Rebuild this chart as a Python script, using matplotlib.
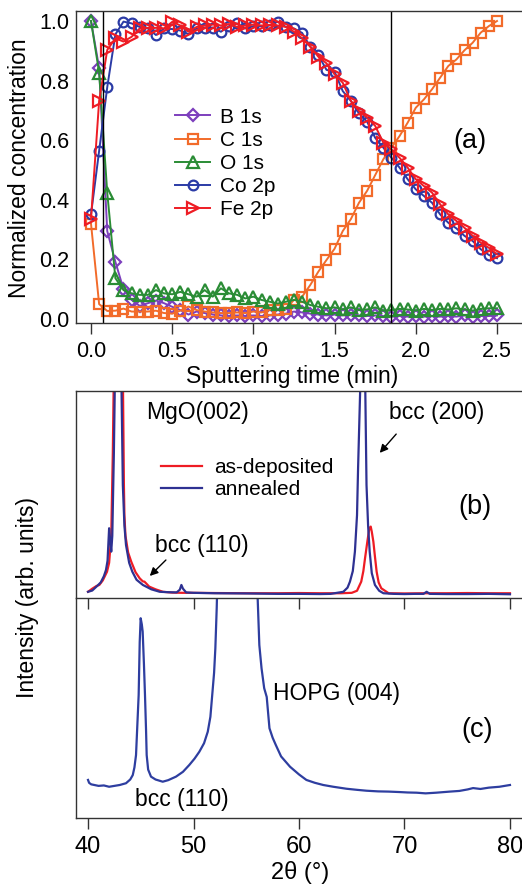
import matplotlib
matplotlib.use('Agg')
import matplotlib.pyplot as plt

plt.rcParams['font.family'] = ['Liberation Sans', 'DejaVu Sans']

# ---------------- data: panel (a) ----------------
time_min = [0.00, 0.05, 0.10, 0.15, 0.20, 0.25, 0.30, 0.35, 0.40, 0.45,
            0.50, 0.55, 0.60, 0.65, 0.70, 0.75, 0.80, 0.85, 0.90, 0.95,
            1.00, 1.05, 1.10, 1.15, 1.20, 1.25, 1.30, 1.35, 1.40, 1.45,
            1.50, 1.55, 1.60, 1.65, 1.70, 1.75, 1.80, 1.85, 1.90, 1.95,
            2.00, 2.05, 2.10, 2.15, 2.20, 2.25, 2.30, 2.35, 2.40, 2.45, 2.50]

b_1s = [1.000, 0.843, 0.295, 0.192, 0.100, 0.064, 0.044, 0.053, 0.062, 0.053,
        0.041, 0.030, 0.015, 0.025, 0.020, 0.015, 0.012, 0.010, 0.012, 0.010,
        0.012, 0.010, 0.012, 0.015, 0.018, 0.025, 0.022, 0.018, 0.015, 0.012,
        0.015, 0.012, 0.015, 0.012, 0.010, 0.012, 0.010, 0.008, 0.010, 0.008,
        0.010, 0.008, 0.010, 0.008, 0.010, 0.008, 0.012, 0.008, 0.010, 0.010, 0.012]

c_1s = [0.320, 0.050, 0.027, 0.028, 0.035, 0.025, 0.025, 0.025, 0.028, 0.020,
        0.018, 0.028, 0.042, 0.030, 0.025, 0.022, 0.020, 0.020, 0.022, 0.020,
        0.025, 0.022, 0.030, 0.030, 0.035, 0.064, 0.075, 0.114, 0.159, 0.198,
        0.236, 0.295, 0.335, 0.390, 0.430, 0.483, 0.536, 0.575, 0.614, 0.659,
        0.709, 0.737, 0.771, 0.810, 0.849, 0.871, 0.902, 0.927, 0.961, 0.983, 1.000]

o_1s = [1.000, 0.827, 0.424, 0.137, 0.097, 0.086, 0.081, 0.081, 0.097, 0.086,
        0.083, 0.091, 0.083, 0.075, 0.097, 0.075, 0.103, 0.086, 0.081, 0.069,
        0.075, 0.064, 0.058, 0.052, 0.058, 0.064, 0.058, 0.047, 0.041, 0.036,
        0.039, 0.032, 0.039, 0.030, 0.032, 0.039, 0.028, 0.030, 0.034, 0.032,
        0.028, 0.034, 0.030, 0.034, 0.032, 0.036, 0.032, 0.028, 0.034, 0.036, 0.036]

co_2p = [0.351, 0.564, 0.778, 0.955, 0.998, 0.992, 0.980, 0.975, 0.953, 0.975,
         0.973, 0.968, 0.956, 0.975, 0.978, 0.978, 0.964, 0.983, 0.992, 0.975,
         0.983, 0.983, 0.985, 0.998, 0.980, 0.975, 0.960, 0.914, 0.886, 0.836,
         0.830, 0.765, 0.732, 0.690, 0.662, 0.608, 0.575, 0.541, 0.508, 0.469,
         0.435, 0.413, 0.390, 0.351, 0.323, 0.304, 0.279, 0.262, 0.234, 0.215, 0.204]

fe_2p = [0.335, 0.732, 0.903, 0.942, 0.931, 0.947, 0.975, 0.977, 0.977, 0.975,
         0.997, 0.985, 0.964, 0.980, 0.985, 0.988, 0.985, 0.990, 0.980, 0.985,
         0.988, 0.985, 0.987, 0.985, 0.980, 0.964, 0.942, 0.914, 0.880, 0.858,
         0.821, 0.793, 0.732, 0.698, 0.676, 0.648, 0.592, 0.569, 0.541, 0.508,
         0.469, 0.446, 0.424, 0.385, 0.351, 0.329, 0.306, 0.279, 0.256, 0.239, 0.217]

boundary_times = [0.072, 1.845]

# ---------------- data: panel (b) ----------------
annealed_2theta = [40.0, 40.4, 40.8, 41.2, 41.5, 41.7, 41.85, 42.0, 42.1, 42.2,
                   42.3, 42.45, 42.56, 42.85, 43.15, 43.3, 43.45, 43.6, 43.9, 44.2,
                   44.6, 45.2, 46.0, 46.8, 47.6, 48.4, 48.7, 48.85, 49.0, 49.3,
                   50.0, 52.0, 55.0, 58.0, 60.0, 62.0, 63.0, 64.2, 64.6, 64.83,
                   65.1, 65.3, 65.5, 65.6, 65.85, 66.05, 66.26, 66.4, 66.55, 66.7,
                   66.9, 67.2, 67.6, 68.0, 69.0, 70.0, 71.0, 71.8, 72.1, 72.4,
                   74.0, 76.0, 78.0, 80.0]
annealed_int = [3.0, 3.6, 5.5, 7.5, 10.5, 13.5, 18.0, 33.7, 28.0, 22.4,
                30.0, 70.0, 110.0, 600.0, 110.0, 54.6, 35.0, 25.6, 17.0, 12.7,
                8.8, 6.3, 4.2, 3.0, 2.8, 2.7, 4.0, 6.3, 4.5, 2.7,
                2.5, 2.3, 2.2, 2.0, 2.0, 1.9, 2.0, 3.0, 5.0, 7.9,
                13.0, 22.4, 40.0, 62.6, 110.0, 600.0, 110.0, 54.6, 35.0, 22.4,
                12.0, 6.3, 3.5, 2.3, 2.0, 1.9, 2.0, 2.0, 3.0, 2.0,
                1.9, 1.9, 2.0, 1.8]

asdep_2theta = [40.0, 40.4, 40.8, 41.07, 41.4, 41.8, 42.0, 42.2, 42.35, 42.45,
                42.9, 43.3, 43.4, 43.45, 43.55, 43.8, 44.1, 44.5, 44.9, 45.2,
                45.35, 45.8, 46.4, 47.1, 48.0, 49.0, 50.0, 52.0, 55.0, 58.0,
                60.0, 62.0, 64.0, 65.0, 65.5, 65.9, 66.1, 66.26, 66.5, 66.67,
                66.8, 66.9, 67.05, 67.2, 67.36, 67.55, 67.8, 68.5, 70.0, 72.0,
                74.0, 76.0, 78.0, 80.0]
asdep_int = [3.0, 4.5, 5.8, 6.3, 8.5, 12.7, 17.0, 30.0, 70.0, 110.0,
             600.0, 110.0, 55.0, 40.0, 30.0, 22.0, 17.5, 12.5, 9.5, 8.0,
             7.9, 5.5, 4.2, 3.0, 2.6, 2.5, 2.5, 2.4, 2.3, 2.3,
             2.4, 2.3, 2.3, 2.5, 3.5, 7.9, 13.0, 19.2, 28.0, 33.7,
             34.5, 32.0, 27.2, 20.0, 12.7, 7.5, 4.7, 2.3, 2.2, 2.3,
             2.3, 2.4, 2.3, 2.3]

# ---------------- data: panel (c) ----------------
hopg_2theta = [40.0, 40.1, 40.3, 40.6, 41.0, 41.5, 42.0, 42.5, 43.0, 43.6,
               44.0, 44.24, 44.4, 44.55, 44.7, 44.8, 44.9, 44.99, 45.1, 45.18,
               45.3, 45.4, 45.5, 45.56, 45.7, 45.97, 46.4, 47.08, 47.6, 48.34,
               49.0, 49.6, 50.1, 50.55, 51.0, 51.35, 51.6, 51.8, 51.95, 52.07,
               52.2, 52.3, 54.4, 56.0, 56.08, 56.24, 56.45, 56.7, 56.94, 57.2,
               57.5, 57.8, 58.3, 59.15, 60.0, 60.7, 61.5, 62.3, 63.25, 64.5,
               65.5, 66.4, 67.5, 68.5, 69.5, 70.3, 71.15, 72.0, 73.0, 74.3,
               75.2, 76.0, 76.5, 77.2, 78.0, 79.0, 80.0]
hopg_int = [17.3, 16.0, 15.3, 15.0, 14.6, 14.8, 14.2, 14.6, 15.0, 15.8,
            17.5, 19.5, 23.0, 28.6, 45.0, 55.9, 80.0, 90.8, 88.0, 84.7,
            70.0, 55.9, 40.0, 28.6, 22.0, 18.8, 17.5, 16.5, 17.2, 18.8,
            21.0, 24.1, 27.0, 30.1, 34.0, 39.2, 46.0, 57.4, 66.0, 77.1,
            95.5, 115.0, 600.0, 115.0, 100.0, 78.6, 68.0, 59.0, 55.0, 40.8,
            36.5, 33.2, 28.0, 23.3, 19.8, 17.3, 16.0, 15.0, 14.2, 13.3,
            12.8, 12.4, 12.1, 12.0, 11.8, 11.6, 11.5, 11.2, 11.5, 12.0,
            12.3, 13.0, 13.6, 13.2, 13.8, 14.2, 15.0]

xticks_a = [0.0, 0.5, 1.0, 1.5, 2.0, 2.5]
yticks_a = [0.0, 0.2, 0.4, 0.6, 0.8, 1.0]
xticks_bc = [40, 50, 60, 70, 80]

# ---------------- figure ----------------
W, H = 522, 885
fig = plt.figure(figsize=(W / 100, H / 100), dpi=100)


def rect(l, t, r, b):
    return [l / W, 1 - b / H, (r - l) / W, (b - t) / H]


axa = fig.add_axes(rect(76, 11, 522, 323))
axb = fig.add_axes(rect(76, 391, 522, 598))
axc = fig.add_axes(rect(76, 598, 522, 818))

spine_col = '#333333'
TICK_FS = 15.5

# ---- panel (a)
series = [
    ('B 1s', b_1s, '#7d3fbd', 'D', 6.5),
    ('C 1s', c_1s, '#f26b2a', 's', 6.5),
    ('O 1s', o_1s, '#2a8c35', '^', 8.0),
    ('Co 2p', co_2p, '#2b3ba6', 'o', 7.0),
    ('Fe 2p', fe_2p, '#ee1c24', '>', 8.0),
]
for name, vals, col, mk, ms in series:
    axa.plot(time_min, vals, color=col, lw=1.4, marker=mk, ms=ms,
             mfc='none', mec=col, mew=1.6, label=name)
for bt in boundary_times:
    axa.axvline(bt, color='black', lw=1.0)

axa.set_xlim(-0.0924, 2.654)
axa.set_ylim(-0.0134, 1.0336)
axa.set_xticks(xticks_a)
axa.set_xticklabels([f'{v:.1f}' for v in xticks_a])
axa.set_yticks(yticks_a)
axa.set_yticklabels([f'{v:.1f}' for v in yticks_a])
axa.tick_params(axis='x', direction='out', length=8, width=1, pad=5,
                labelsize=TICK_FS, color=spine_col)
axa.tick_params(axis='y', length=0, pad=5, labelsize=TICK_FS)
axa.spines['right'].set_visible(False)
for s in ['left', 'top', 'bottom']:
    axa.spines[s].set_color(spine_col)
    axa.spines[s].set_linewidth(1.0)
axa.legend(loc='upper left', bbox_to_anchor=(0.222, 0.69), frameon=False,
           fontsize=15, handlelength=1.7, handletextpad=0.45,
           labelspacing=0.2, borderpad=0, borderaxespad=0)
axa.text(0.883, 0.583, '(a)', transform=axa.transAxes, fontsize=19.5,
         ha='center', va='center')

# ---- panel (b)
axb.plot(asdep_2theta, asdep_int, color='#ee1c24', lw=1.6, label='as-deposited')
axb.plot(annealed_2theta, annealed_int, color='#2e3192', lw=1.6, label='annealed')
axb.set_xlim(38.86, 81.14)
axb.set_ylim(0, 100)
axb.set_xticks([])
axb.set_yticks([])
axb.spines['right'].set_visible(False)
axb.spines['bottom'].set_visible(False)
for s in ['left', 'top']:
    axb.spines[s].set_color(spine_col)
    axb.spines[s].set_linewidth(1.0)
axb.legend(loc='upper left', bbox_to_anchor=(0.19, 0.675), frameon=False,
           fontsize=15, handlelength=2.0, handletextpad=0.55,
           labelspacing=0.15, borderpad=0, borderaxespad=0)
axb.text(0.2735, 0.894, 'MgO(002)', transform=axb.transAxes, fontsize=16.5,
         ha='center', va='center')
axb.text(0.809, 0.894, 'bcc (200)', transform=axb.transAxes, fontsize=16.5,
         ha='center', va='center')
axb.text(0.2825, 0.256, 'bcc (110)', transform=axb.transAxes, fontsize=16.5,
         ha='center', va='center')
axb.text(0.895, 0.44, '(b)', transform=axb.transAxes, fontsize=19.5,
         ha='center', va='center')
arrow_kw = dict(arrowstyle='-|>', color='black', lw=1.0, mutation_scale=12)
axb.annotate('', xy=(0.677, 0.691), xytext=(0.722, 0.802),
             xycoords='axes fraction', textcoords='axes fraction',
             arrowprops=arrow_kw)
axb.annotate('', xy=(0.161, 0.097), xytext=(0.206, 0.193),
             xycoords='axes fraction', textcoords='axes fraction',
             arrowprops=arrow_kw)

# ---- panel (c)
axc.plot(hopg_2theta, hopg_int, color='#2e3ea0', lw=1.6)
axc.set_xlim(38.86, 81.14)
axc.set_ylim(0, 100)
axc.set_xticks(xticks_bc)
axc.set_yticks([])
axc.tick_params(axis='x', which='both', top=True, direction='out', length=8,
                width=1, pad=5, labelsize=TICK_FS + 1.5, color=spine_col)
axc.spines['right'].set_visible(False)
for s in ['left', 'top', 'bottom']:
    axc.spines[s].set_color(spine_col)
    axc.spines[s].set_linewidth(1.0)
# top ticks pointing into panel (c)
for tk in axc.xaxis.get_major_ticks():
    tk.tick2line.set_marker(matplotlib.lines.TICKDOWN)
    tk.tick2line.set_markersize(8)
axc.text(0.583, 0.568, 'HOPG (004)', transform=axc.transAxes, fontsize=16.5,
         ha='center', va='center')
axc.text(0.899, 0.40, '(c)', transform=axc.transAxes, fontsize=19.5,
         ha='center', va='center')
axc.text(0.238, 0.086, 'bcc (110)', transform=axc.transAxes, fontsize=16.5,
         ha='center', va='center')

# ---- axis labels
fig.text(20 / W, 1 - 168 / H, 'Normalized concentration', rotation=90,
         fontsize=16.5, ha='center', va='center')
fig.text(292 / W, 1 - 377 / H, 'Sputtering time (min)', fontsize=16.5,
         ha='center', va='center')
fig.text(28 / W, 1 - 597 / H, 'Intensity (arb. units)', rotation=90,
         fontsize=16.5, ha='center', va='center')
fig.text(300 / W, 1 - 873 / H, '2θ (°)', fontsize=17,
         ha='center', va='center')

fig.savefig('out.png', dpi=100)
